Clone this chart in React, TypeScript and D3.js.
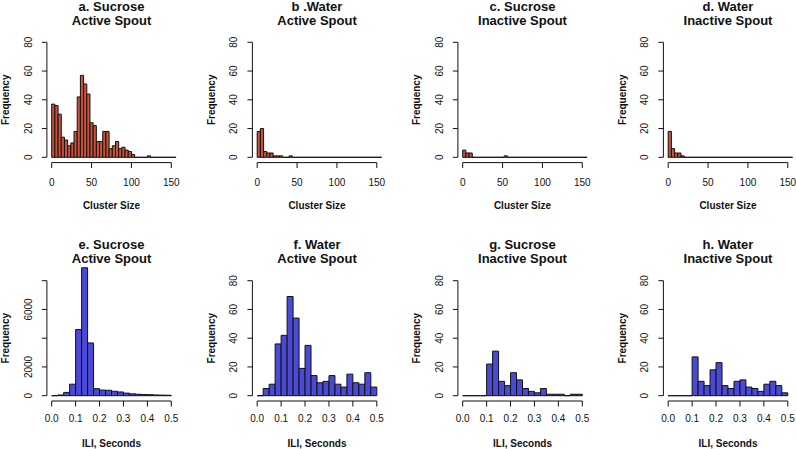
import React from "react";
import * as d3 from "d3";

// ---------- data ----------
const clusterBreakStep = 4;
const clusterMax = 156;
const clusterTicks = [0, 50, 100, 150];

const sucroseActiveCluster = [37, 36, 30, 14, 12, 8, 10, 18, 42, 57, 51, 44, 24, 22, 11, 11, 18, 18, 6, 8, 11, 6, 7, 5, 4, 2, 0, 0, 0, 0, 1, 0, 0, 0, 0, 0, 0, 0, 0];
const waterActiveCluster = [18, 20, 4, 3, 3, 1, 1, 1, 0, 0, 1, 0, 0, 0, 0, 0, 0, 0, 0, 0, 0, 0, 0, 0, 0, 0, 0, 0, 0, 0, 0, 0, 0, 0, 0, 0, 0, 0, 0];
const sucroseInactiveCluster = [5, 3, 3, 0, 0, 0, 0, 0, 0, 0, 0, 0, 0, 1, 0, 0, 0, 0, 0, 0, 0, 0, 0, 0, 0, 0, 0, 0, 0, 0, 0, 0, 0, 0, 0, 0, 0, 0, 0];
const waterInactiveCluster = [18, 6, 3, 3, 1, 0, 0, 0, 0, 0, 0, 0, 0, 0, 0, 0, 0, 0, 0, 0, 0, 0, 0, 0, 0, 0, 0, 0, 0, 0, 0, 0, 0, 0, 0, 0, 0, 0, 0];

const iliBreakStep = 0.025;
const iliMax = 0.5;
const iliTicks = [0, 0.1, 0.2, 0.3, 0.4, 0.5];

const sucroseActiveILI = [0, 50, 230, 800, 4600, 8900, 3670, 490, 390, 380, 310, 260, 180, 130, 100, 80, 70, 50, 40, 30];
const waterActiveILI = [0, 5, 8, 36, 42, 69, 54, 19, 35, 14, 9, 10, 14, 8, 6, 15, 9, 8, 16, 6];
const sucroseInactiveILI = [0, 0, 0, 0, 22, 31, 10, 7, 16, 11, 5, 3, 2, 5, 1, 1, 1, 0, 1, 1];
const waterInactiveILI = [0, 0, 0, 0, 27, 10, 7, 18, 23, 7, 5, 10, 11, 6, 5, 3, 8, 10, 7, 2];

const freqTicks80 = [0, 20, 40, 60, 80];
const freqTicksBig = [0, 2000, 4000, 6000, 8000];
const freqLabelsBig = [0, 2000, 6000];

const titles1 = ["a. Sucrose", "b .Water", "c. Sucrose", "d. Water", "e. Sucrose", "f. Water", "g. Sucrose", "h. Water"];
const titles2 = ["Active Spout", "Active Spout", "Inactive Spout", "Inactive Spout", "Active Spout", "Active Spout", "Inactive Spout", "Inactive Spout"];

// ---------- layout ----------
const W = 796;
const H = 449;
const colLeft = [51.7, 257.2, 462.7, 668.2];
const plotW = 119.6;
const rowZeroY = [157.3, 395.7];
const rowOffset = [0, 238.2];
const px80 = 115;
const RED = "#c9523c";
const BLUE = "#4a4ad6";
const FONT = "'Liberation Sans', Arial, Helvetica, sans-serif";

type Panel = {
  idx: number;
  counts: number[];
  step: number;
  xmax: number;
  xticks: number[];
  tickFmt: (v: number) => string;
  yticks: number[];
  ylabels: number[];
  ytop: number;
  color: string;
  xlab: string;
};

const panels: Panel[] = [
  { idx: 0, counts: sucroseActiveCluster, step: clusterBreakStep, xmax: clusterMax, xticks: clusterTicks, tickFmt: (v) => String(v), yticks: freqTicks80, ylabels: freqTicks80, ytop: 80, color: RED, xlab: "Cluster Size" },
  { idx: 1, counts: waterActiveCluster, step: clusterBreakStep, xmax: clusterMax, xticks: clusterTicks, tickFmt: (v) => String(v), yticks: freqTicks80, ylabels: freqTicks80, ytop: 80, color: RED, xlab: "Cluster Size" },
  { idx: 2, counts: sucroseInactiveCluster, step: clusterBreakStep, xmax: clusterMax, xticks: clusterTicks, tickFmt: (v) => String(v), yticks: freqTicks80, ylabels: freqTicks80, ytop: 80, color: RED, xlab: "Cluster Size" },
  { idx: 3, counts: waterInactiveCluster, step: clusterBreakStep, xmax: clusterMax, xticks: clusterTicks, tickFmt: (v) => String(v), yticks: freqTicks80, ylabels: freqTicks80, ytop: 80, color: RED, xlab: "Cluster Size" },
  { idx: 4, counts: sucroseActiveILI, step: iliBreakStep, xmax: iliMax, xticks: iliTicks, tickFmt: (v) => v.toFixed(1), yticks: freqTicksBig, ylabels: freqLabelsBig, ytop: 8000, color: BLUE, xlab: "ILI, Seconds" },
  { idx: 5, counts: waterActiveILI, step: iliBreakStep, xmax: iliMax, xticks: iliTicks, tickFmt: (v) => v.toFixed(1), yticks: freqTicks80, ylabels: freqTicks80, ytop: 80, color: BLUE, xlab: "ILI, Seconds" },
  { idx: 6, counts: sucroseInactiveILI, step: iliBreakStep, xmax: iliMax, xticks: iliTicks, tickFmt: (v) => v.toFixed(1), yticks: freqTicks80, ylabels: freqTicks80, ytop: 80, color: BLUE, xlab: "ILI, Seconds" },
  { idx: 7, counts: waterInactiveILI, step: iliBreakStep, xmax: iliMax, xticks: iliTicks, tickFmt: (v) => v.toFixed(1), yticks: freqTicks80, ylabels: freqTicks80, ytop: 80, color: BLUE, xlab: "ILI, Seconds" },
];

function PanelView({ p }: { p: Panel }) {
  const col = p.idx % 4;
  const row = Math.floor(p.idx / 4);
  const left = colLeft[col];
  const xTickMax = p.xticks[p.xticks.length - 1];
  const x = d3.scaleLinear().domain([0, xTickMax]).range([left, left + plotW]);
  const y0 = rowZeroY[row];
  const y = d3.scaleLinear().domain([0, p.ytop]).range([y0, y0 - px80]);
  const axisX = left - 4.8;
  const axisY = y0 + 5.3;
  const off = rowOffset[row];
  const cx = left + plotW / 2;
  const cy = y0 - px80 / 2;

  return (
    <g>
      {p.counts.map((c, i) => {
        const xa = x(i * p.step);
        const xb = x((i + 1) * p.step);
        const yt = y(c);
        return (
          <path
            key={i}
            d={`M${xa},${y0}V${yt}H${xb}V${y0}Z`}
            fill={p.color}
            stroke="#111"
            strokeWidth={1}
          />
        );
      })}
      {/* x axis */}
      <line x1={x(0)} x2={x(xTickMax)} y1={axisY} y2={axisY} stroke="#111" />
      {p.xticks.map((t) => (
        <g key={t}>
          <line x1={x(t)} x2={x(t)} y1={axisY} y2={axisY + 5.5} stroke="#111" />
          <text x={x(t)} y={row === 0 ? 185.5 : 422} textAnchor="middle" fontSize={10} fontFamily={FONT} fill="#111">
            {p.tickFmt(t)}
          </text>
        </g>
      ))}
      {/* y axis */}
      <line x1={axisX} x2={axisX} y1={y(0)} y2={y(p.yticks[p.yticks.length - 1])} stroke="#111" />
      {p.yticks.map((t) => (
        <line key={t} x1={axisX - 5} x2={axisX} y1={y(t)} y2={y(t)} stroke="#111" />
      ))}
      {p.ylabels.map((t) => (
        <text
          key={"l" + t}
          transform={`translate(${axisX - 15.2},${y(t)}) rotate(-90)`}
          textAnchor="middle"
          fontSize={10}
          fontFamily={FONT}
          fill="#111"
        >
          {t}
        </text>
      ))}
      {/* labels */}
      <text
        transform={`translate(${axisX - 37.7},${cy}) rotate(-90)`}
        textAnchor="middle"
        fontSize={10}
        fontWeight="bold"
        fontFamily={FONT}
        fill="#111"
      >
        Frequency
      </text>
      <text x={cx} y={208.5 + off} textAnchor="middle" fontSize={10} fontWeight="bold" fontFamily={FONT} fill="#111">
        {p.xlab}
      </text>
      <text x={cx} y={10.8 + off} textAnchor="middle" fontSize={13} fontWeight="bold" fontFamily={FONT} fill="#111">
        {titles1[p.idx]}
      </text>
      <text x={cx} y={24.8 + off} textAnchor="middle" fontSize={13} fontWeight="bold" fontFamily={FONT} fill="#111">
        {titles2[p.idx]}
      </text>
    </g>
  );
}

export default function App() {
  return (
    <svg
      width={W}
      height={H}
      viewBox={`0 0 ${W} ${H}`}
      style={{ position: "absolute", left: 0, top: 0, background: "#fff" }}
    >
      <rect width={W} height={H} fill="#fff" />
      {panels.map((p) => (
        <PanelView key={p.idx} p={p} />
      ))}
    </svg>
  );
}
